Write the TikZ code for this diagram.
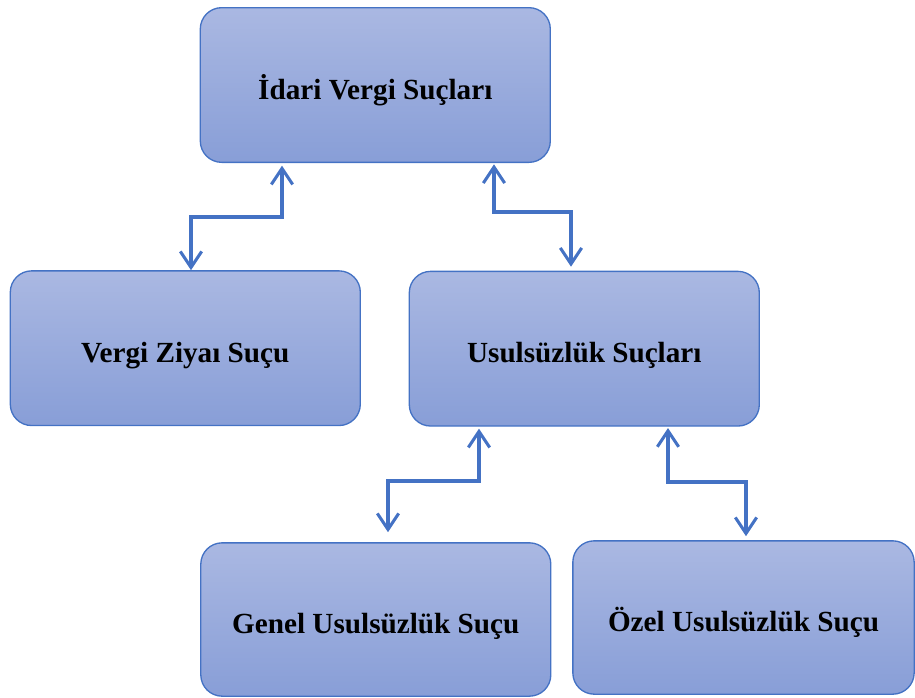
\documentclass[tikz,border=0pt]{standalone}
\usepackage{fontspec}
\setmainfont{Liberation Serif}
\usetikzlibrary{arrows.meta}
\definecolor{edgeblue}{RGB}{68,114,196}
\definecolor{filltop}{RGB}{170,184,226}
\definecolor{fillbot}{RGB}{136,158,215}
\tikzset{
  box/.style={draw=edgeblue, line width=1pt, rounded corners=16pt,
    top color=filltop, bottom color=fillbot, inner sep=0pt,
    minimum width=262.5pt, minimum height=116pt,
    text height=21pt, text depth=0pt,
    font=\bfseries\fontsize{21.9}{26}\selectfont, text=black},
  conn/.style={draw=edgeblue, line width=2.3pt,
    {Straight Barb[length=12pt,width=16pt,line width=2.3pt]}-{Straight Barb[length=12pt,width=16pt,line width=2.3pt]}}
}
\begin{document}
\begin{tikzpicture}[x=0.75pt,y=-0.75pt]
\useasboundingbox (0,0) rectangle (915,697);
\node[box] (top) at (375.3,85) {İdari Vergi Suçları};
\node[box] (vz) at (185.3,348.2) {Vergi Ziyaı Suçu};
\node[box] (us) at (584.3,348.7) {Usulsüzlük Suçları};
\node[box, minimum height=115pt] (gen) at (375.8,619.5) {Genel Usulsüzlük Suçu};
\node[box, minimum width=256pt, minimum height=115pt] (oz) at (743.5,617.5) {Özel Usulsüzlük Suçu};
\coordinate (a1) at (282,217);
\coordinate (b1) at (191,217);
\coordinate (a2) at (494,212);
\coordinate (b2) at (571,212);
\coordinate (a3) at (479,481);
\coordinate (b3) at (388,481);
\coordinate (a4) at (668,482);
\coordinate (b4) at (746,482);
\draw[conn, shorten <=2pt] (top.south -| a1) |- (b1) -- (vz.north -| b1);
\draw[conn, shorten <=1pt, shorten >=3pt] (top.south -| a2) |- (b2) -- (us.north -| b2);
\draw[conn, shorten <=1.5pt, shorten >=7.5pt] (us.south -| a3) |- (b3) -- (gen.north -| b3);
\draw[conn, shorten <=1pt, shorten >=3pt] (us.south -| a4) |- (b4) -- (oz.north -| b4);
\end{tikzpicture}
\end{document}
